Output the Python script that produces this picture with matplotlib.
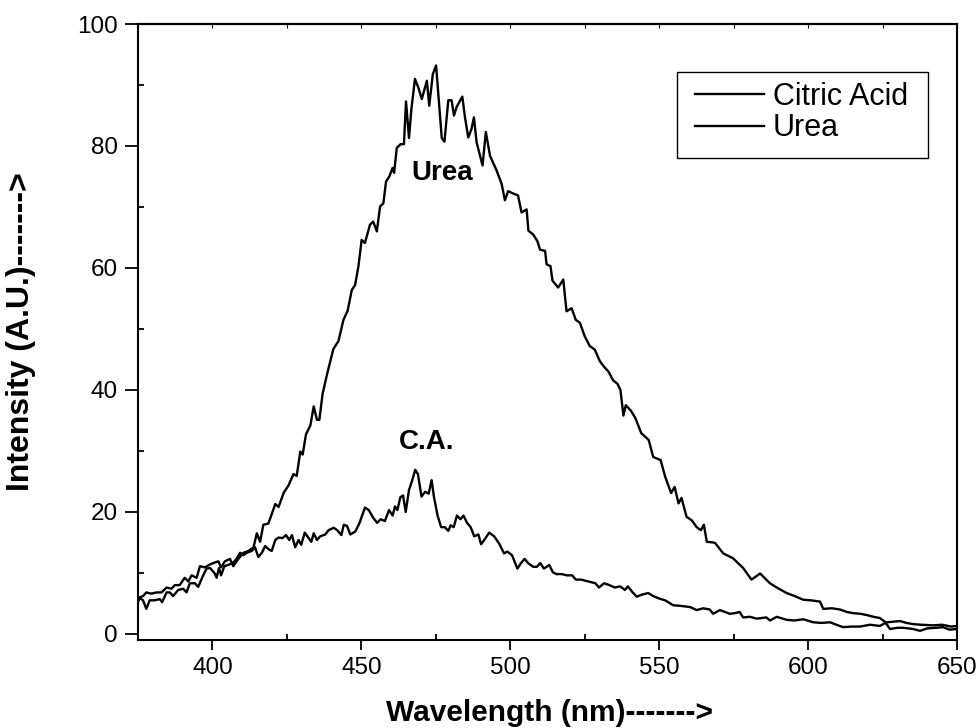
import numpy as np
import matplotlib.pyplot as plt
from matplotlib.ticker import MultipleLocator
from matplotlib.patches import Rectangle

plt.rcParams['font.family'] = ['Liberation Sans', 'DejaVu Sans']

urea_wl = [375.0, 376.7, 377.8, 379.5, 381.2, 382.9, 384.6, 386.2, 387.4, 389.0,
           390.7, 391.9, 393.0, 394.7, 395.8, 397.5, 399.2, 400.8, 402.0, 402.9,
           404.2, 405.9, 407.0, 408.7, 410.4, 412.1, 413.8, 414.9, 416.0, 417.1,
           418.8, 421.1, 422.2, 423.9, 425.6, 427.2, 428.3, 429.5, 430.3, 431.4,
           432.9, 434.0, 435.1, 435.9, 437.0, 438.5, 440.6, 442.3, 444.0, 445.4,
           446.8, 447.9, 449.0, 450.1, 451.2, 452.9, 454.0, 455.2, 456.3, 457.4,
           458.3, 459.4, 460.5, 461.0, 461.9, 463.2, 464.3, 465.0, 466.0, 466.8,
           468.0, 469.2, 470.3, 472.0, 472.8, 474.0, 475.1, 477.0, 477.9, 479.2,
           480.3, 481.1, 482.0, 483.9, 484.8, 485.9, 487.0, 487.8, 488.7, 490.7,
           491.8, 493.2, 495.4, 497.1, 498.2, 499.3, 501.0, 502.6, 503.8, 505.5,
           506.1, 507.7, 509.1, 510.0, 511.7, 512.2, 513.5, 514.2, 516.1, 517.8,
           518.9, 520.6, 522.0, 523.4, 525.0, 526.7, 528.4, 530.1, 531.5, 533.0,
           534.5, 536.0, 537.0, 538.0, 538.8, 540.5, 542.0, 544.0, 546.5, 548.0,
           550.5, 552.0, 554.0, 555.2, 556.5, 557.5, 559.2, 561.0, 562.6, 564.0,
           565.0, 566.0, 568.0, 568.8, 571.5, 574.8, 578.2, 581.0, 583.9, 587.2,
           589.5, 592.8, 595.5, 598.4, 601.0, 604.0, 605.1, 608.0, 610.7, 613.0,
           615.1, 617.5, 619.6, 622.0, 624.1, 625.8, 627.5, 630.0, 632.0, 635.3,
           637.6, 640.0, 643.0, 645.3, 647.5, 650.0]
urea_int = [5.9, 6.2, 6.8, 6.6, 6.8, 6.8, 7.6, 7.4, 8.0, 8.0,
            9.2, 8.6, 9.6, 9.2, 11.1, 10.9, 11.4, 11.7, 11.9, 10.9,
            11.9, 12.3, 11.1, 12.3, 13.3, 13.6, 14.2, 16.5, 15.1, 17.9,
            18.1, 21.3, 20.8, 23.1, 24.4, 26.2, 25.9, 29.9, 29.4, 32.7,
            34.2, 37.3, 35.1, 35.1, 39.4, 42.6, 46.7, 48.0, 51.5, 53.0,
            56.4, 57.2, 60.2, 64.6, 64.1, 67.1, 67.6, 66.0, 70.1, 70.6,
            74.2, 75.0, 76.4, 75.6, 79.7, 80.3, 80.3, 87.3, 81.3, 86.0,
            91.0, 89.5, 87.7, 90.7, 86.6, 91.8, 93.2, 81.3, 80.7, 87.5,
            87.5, 85.0, 86.4, 88.1, 84.7, 81.4, 82.8, 84.7, 80.6, 76.8,
            82.3, 78.4, 76.0, 73.8, 71.1, 72.6, 72.2, 71.9, 69.1, 69.6,
            66.1, 65.5, 64.4, 63.0, 62.8, 60.6, 60.3, 57.9, 56.8, 58.1,
            52.9, 53.4, 51.5, 51.0, 48.8, 47.2, 46.6, 44.7, 43.8, 43.0,
            41.6, 41.0, 40.0, 35.8, 37.5, 36.6, 35.4, 32.9, 31.8, 29.0,
            28.5, 25.8, 23.1, 24.1, 21.4, 22.3, 19.2, 18.6, 17.5, 17.0,
            17.9, 15.1, 15.0, 14.9, 13.2, 12.4, 10.8, 8.9, 9.9, 8.3,
            7.6, 6.7, 6.2, 5.6, 5.5, 5.3, 4.1, 4.2, 4.0, 3.6,
            3.4, 3.3, 3.1, 2.8, 2.6, 2.0, 0.8, 1.0, 1.0, 0.8,
            0.5, 0.9, 1.0, 1.1, 0.7, 0.8]

ca_wl = [375.0, 375.6, 376.7, 377.8, 378.9, 380.6, 382.3, 383.1, 384.6, 385.7,
         386.8, 388.5, 390.2, 391.3, 392.4, 394.1, 395.2, 396.9, 398.0, 399.2,
         400.8, 401.4, 402.2, 402.9, 404.0, 405.3, 407.0, 408.1, 409.3, 410.4,
         411.5, 413.2, 414.3, 415.4, 416.6, 417.7, 418.8, 419.9, 421.1, 422.2,
         423.5, 424.7, 425.8, 426.7, 427.8, 428.9, 429.8, 431.0, 432.3, 433.2,
         434.0, 435.1, 436.2, 437.9, 439.0, 440.7, 441.9, 443.3, 444.1, 445.2,
         446.3, 448.0, 449.4, 451.2, 452.5, 453.9, 455.3, 456.5, 457.9, 459.3,
         460.5, 461.3, 462.1, 463.1, 464.0, 464.9, 466.0, 466.9, 468.1, 469.0,
         470.2, 471.4, 472.6, 473.6, 474.4, 475.6, 476.8, 478.0, 479.2, 480.0,
         481.0, 482.1, 483.3, 484.3, 485.5, 486.7, 487.9, 489.3, 490.2, 491.7,
         492.9, 494.6, 496.4, 497.9, 499.0, 500.6, 502.4, 503.6, 504.8, 506.0,
         507.7, 508.9, 510.1, 511.3, 513.1, 514.3, 515.5, 517.3, 519.0, 520.8,
         522.0, 523.8, 526.2, 528.6, 529.8, 531.5, 533.3, 535.1, 536.9, 538.5,
         539.5, 541.1, 542.5, 544.0, 546.3, 548.0, 550.0, 552.0, 554.7, 557.0,
         560.4, 562.6, 564.8, 567.0, 568.1, 570.4, 573.7, 575.5, 577.0, 578.2,
         580.5, 582.7, 586.0, 587.2, 589.5, 592.8, 595.5, 598.4, 601.7, 604.5,
         607.4, 609.5, 611.8, 614.5, 617.4, 620.8, 624.1, 626.4, 628.5, 630.9,
         633.0, 635.3, 638.0, 642.0, 645.0, 648.0, 650.0]
ca_int = [5.2, 5.9, 5.5, 4.1, 5.5, 5.5, 5.7, 5.2, 6.8, 6.8,
          6.2, 7.2, 7.4, 6.8, 8.3, 8.3, 7.7, 9.6, 10.7, 10.8,
          9.9, 9.2, 10.8, 9.6, 11.1, 11.3, 11.7, 12.3, 13.3, 12.9,
          13.3, 13.6, 14.2, 12.6, 13.3, 14.4, 13.9, 13.6, 15.4, 15.8,
          15.7, 16.2, 15.4, 16.2, 14.2, 15.4, 14.6, 16.6, 15.7, 15.1,
          16.5, 15.4, 16.0, 16.3, 17.0, 17.4, 17.0, 16.2, 17.9, 17.7,
          16.3, 16.8, 18.2, 20.7, 20.3, 19.1, 18.2, 18.8, 18.5, 20.3,
          19.4, 20.9, 20.3, 22.4, 22.7, 20.0, 23.6, 24.9, 26.9, 26.2,
          22.5, 23.3, 23.0, 25.2, 22.4, 19.4, 17.5, 17.5, 16.9, 17.8,
          17.5, 19.4, 18.8, 19.4, 18.2, 17.5, 16.0, 16.3, 14.7, 15.7,
          16.6, 16.0, 14.7, 13.2, 13.5, 12.9, 10.7, 11.6, 12.3, 11.6,
          11.0, 11.0, 11.6, 10.7, 11.3, 10.1, 9.8, 9.8, 9.6, 9.6,
          8.9, 8.9, 8.6, 8.3, 7.6, 8.3, 8.0, 7.6, 7.8, 7.2,
          7.8, 6.8, 6.1, 6.4, 6.7, 6.2, 5.8, 5.5, 4.7, 4.6,
          4.4, 3.9, 4.2, 4.0, 3.3, 3.9, 3.3, 3.4, 3.6, 2.7,
          2.8, 2.5, 2.7, 2.2, 2.8, 2.3, 2.2, 2.4, 1.9, 1.8,
          1.9, 1.5, 1.1, 1.2, 1.2, 1.5, 1.3, 1.9, 2.0, 2.1,
          1.8, 1.6, 1.5, 1.4, 1.5, 1.2, 1.3]

fig = plt.figure(figsize=(9.8, 7.28), dpi=100)
ax = fig.add_axes([0.1408, 0.1209, 0.8357, 0.8461])

ax.plot(ca_wl, ca_int, color='black', lw=1.7, label='Citric Acid')
ax.plot(urea_wl, urea_int, color='black', lw=1.7, label='Urea')

ax.set_xlim(375, 650)
ax.set_ylim(-1, 100)
ax.xaxis.set_major_locator(MultipleLocator(50))
ax.xaxis.set_minor_locator(MultipleLocator(25))
ax.yaxis.set_major_locator(MultipleLocator(20))
ax.yaxis.set_minor_locator(MultipleLocator(10))
ax.tick_params(which='major', direction='out', width=1.3, labelsize=17.5)
ax.tick_params(axis='x', which='major', length=7.5, pad=5)
ax.tick_params(axis='y', which='major', length=9.5, pad=5)
ax.tick_params(which='minor', direction='in', length=4.5, width=1.3)

# small inward ticks along the top edge
top = ax.secondary_xaxis('top')
top.set_xticks(np.arange(400, 651, 25))
top.tick_params(direction='in', length=3, width=0.8, labeltop=False)
top.spines['top'].set_linewidth(1.5)

for s in ax.spines.values():
    s.set_linewidth(1.5)

ax.set_xlabel('Wavelength (nm)------->', fontsize=21.5, fontweight='bold', va='top')
ax.xaxis.set_label_coords(0.503, -0.095)
ax.set_ylabel('Intensity (A.U.)------->', fontsize=23, fontweight='bold')
ax.yaxis.set_label_coords(-0.124, 0.5)

ax.text(477, 75.5, 'Urea', fontsize=20, fontweight='bold', ha='center', va='center')
ax.text(472, 31.5, 'C.A.', fontsize=20, fontweight='bold', ha='center', va='center')

# legend box drawn separately so its padding matches the original
ax.add_patch(Rectangle((0.658, 0.782), 0.307, 0.14, transform=ax.transAxes,
                       facecolor='white', edgecolor='black', lw=1.0, zorder=4))
leg = ax.legend(loc='upper left', bbox_to_anchor=(0.680, 0.906), fontsize=22,
                frameon=False, handlelength=2.25, handletextpad=0.3,
                labelspacing=0.05, borderpad=0, borderaxespad=0)
leg.set_zorder(5)

plt.savefig('out.png', dpi=100)
